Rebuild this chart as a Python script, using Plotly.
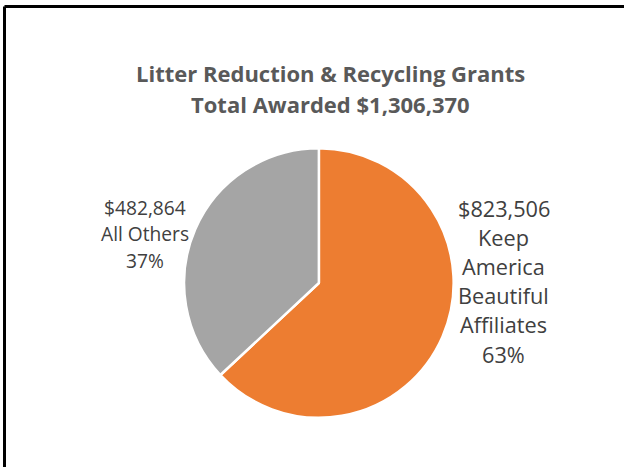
import plotly.graph_objects as go

categories = ["Keep<br>America<br>Beautiful<br>Affiliates", "All Others"]
values = [823506, 482864]
colors = ["#ED7D31", "#A5A5A5"]
title_lines = ["Litter Reduction & Recycling Grants", "Total Awarded $1,306,370"]

total = sum(values)
label_lines = [[f"${v:,}"] + c.split("<br>") + [f"{round(v / total * 100)}%"]
               for c, v in zip(categories, values)]

W, H = 624, 467
font_family = "Open Sans, Noto Sans, sans-serif"

fig = go.Figure(go.Pie(
    values=values,
    labels=categories,
    marker=dict(colors=colors, line=dict(color="white", width=2.5)),
    sort=False,
    direction="clockwise",
    rotation=0,
    textinfo="none",
    hoverinfo="skip",
    showlegend=False,
    domain=dict(x=[0.295, 0.727], y=[0.105, 0.683]),
))

# title lines
for txt, yc in zip(title_lines, [73, 104]):
    fig.add_annotation(x=330 / W, y=1 - yc / H, xref="paper", yref="paper",
                       text="<b>" + txt + "</b>", showarrow=False,
                       font=dict(family=font_family, size=22, color="#595959"),
                       xanchor="center", yanchor="middle")

# data labels (one annotation per text line)
label_layout = [
    dict(x=503.5, y0=208, pitch=29.2, size=21.7),   # Keep America Beautiful Affiliates
    dict(x=144.5, y0=207, pitch=26.5, size=19.2),   # All Others
]
for lines, lay in zip(label_lines, label_layout):
    for i, txt in enumerate(lines):
        fig.add_annotation(x=lay["x"] / W, y=1 - (lay["y0"] + i * lay["pitch"]) / H,
                           xref="paper", yref="paper", text=txt, showarrow=False,
                           font=dict(family=font_family, size=lay["size"], color="#404040"),
                           xanchor="center", yanchor="middle")

# frame (only top and left edges visible; cropped on right & bottom)
fig.add_shape(type="line", xref="paper", yref="paper",
              x0=4.5 / W, x1=1, y0=1 - 6.5 / H, y1=1 - 6.5 / H,
              line=dict(color="black", width=3))
fig.add_shape(type="line", xref="paper", yref="paper",
              x0=4.5 / W, x1=4.5 / W, y0=0, y1=1 - 6.5 / H,
              line=dict(color="black", width=3))

fig.update_layout(width=W, height=H, margin=dict(l=0, r=0, t=0, b=0),
                  paper_bgcolor="white", plot_bgcolor="white")

fig.write_html("out.html", config={"displayModeBar": False},
               post_script="document.body.style.margin='0';document.body.style.overflow='hidden';")
